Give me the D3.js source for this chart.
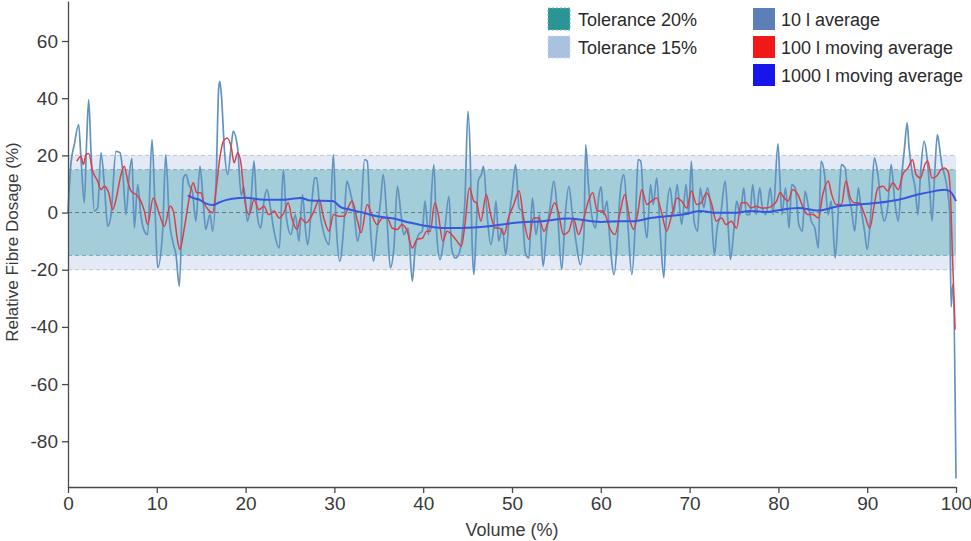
<!DOCTYPE html>
<html>
<head>
<meta charset="utf-8">
<script src="https://cdn.jsdelivr.net/npm/d3@7"></script>
<style>
  body { margin: 0; background: #ffffff; }
  text { font-family: "Liberation Sans", Arial, sans-serif; }
</style>
</head>
<body>
<svg id="chart" width="971" height="541"></svg>
<script>
// Axis ticks
const xTicks = [0, 10, 20, 30, 40, 50, 60, 70, 80, 90, 100];
const yTicks = [-80, -60, -40, -20, 0, 20, 40, 60];

// Tolerance bands (± relative dosage, %)
const toleranceOuter = 20;
const toleranceInner = 15;

// Legend entries
const legendTolerance = ["Tolerance 20%", "Tolerance 15%"];
const legendSeries = ["10 l average", "100 l moving average", "1000 l moving average"];

// 10 l average: [volume %, relative fibre dosage %]
const tenLitre = [
  [0,0],[0.3,16],[0.71,23.8],[1.2,30.8],[1.46,19],[1.84,3.4],[2.1,25],[2.33,39.5],[2.59,21.4],[2.97,0.5],
  [3.34,1.6],[3.72,20.9],[4.09,9.8],[4.47,-4.8],[4.85,-0.7],[5.4,21.4],[5.86,20.9],[6.16,14.5],[6.53,-0.7],[6.9,13.3],
  [7.2,19],[7.47,-5.4],[7.85,9.8],[8.2,-0.7],[8.6,-6.5],[8.97,-7.7],[9.46,25.5],[9.8,1.6],[10.1,-19.3],[10.66,-6.5],
  [11.0,20.3],[11.4,-1.9],[11.86,-11],[12.16,-14.7],[12.54,-25.8],[12.99,12.1],[13.3,13.3],[13.6,9.8],[14.0,7.5],[14.4,-3],
  [14.86,16.2],[15.2,5.1],[15.5,-5.9],[15.99,-0.7],[16.3,-6.5],[16.7,13.3],[16.97,43.6],[17.1,45.9],[17.3,40],[17.6,22.6],
  [17.98,13.3],[18.4,23.8],[18.6,28.4],[19.1,22.6],[19.5,6],[19.8,9],[20.2,-3],[20.6,4],[20.95,18],[21.3,-0.7],
  [21.7,-5.4],[22.07,4],[22.4,8],[22.8,1.6],[23.2,-6.5],[23.8,-12.4],[24.25,15],[24.6,-1.9],[25.1,-7.7],[25.6,-0.7],
  [26.0,-10],[26.4,6.3],[26.8,-7.7],[27.0,-11.2],[27.5,5.1],[27.78,12.1],[28.0,12.1],[28.4,-0.7],[28.8,-7.1],[29.4,-11.2],
  [29.88,20.3],[30.2,-4.2],[30.6,-17],[31.1,-3],[31.4,11],[31.76,7.5],[32.2,0.5],[32.6,-10],[32.9,-5.4],[33.4,18.5],
  [33.7,18],[34.08,-6.5],[34.4,-17],[34.8,-6.5],[35.2,4],[35.5,13.3],[35.89,-0.7],[36.3,-19.3],[36.7,-12.4],[37.09,9.2],
  [37.5,-0.7],[37.8,-7.7],[38.3,-5.4],[38.77,-24],[39.1,-12.4],[39.5,-7.7],[39.9,-6.5],[40.2,4],[40.6,-7.7],[41.2,16.8],
  [41.5,-6.5],[41.9,-16.4],[42.3,-10],[42.9,5.7],[43.2,-12.4],[43.6,-15.9],[44.0,-14.7],[44.4,-7.7],[44.7,4],[45.04,35.4],
  [45.3,19.1],[45.5,-10],[45.7,-21.7],[45.95,-7.7],[46.2,11],[46.55,13.3],[46.8,16.2],[47.2,-0.7],[47.6,-11.2],[47.9,-6.5],
  [48.2,4],[48.5,-10],[48.9,-5.4],[49.3,-14.7],[49.7,-0.7],[50.0,6.3],[50.4,16.8],[50.8,1.6],[51.1,0.5],[51.5,-14.1],
  [51.9,-15.9],[52.3,5.1],[52.7,-7.7],[53.1,-0.7],[53.5,-18.8],[53.9,-6.5],[54.3,2.2],[54.7,11],[55.1,1],[55.6,-19.9],
  [56.0,-0.7],[56.4,9.2],[56.8,-0.7],[57.2,-10],[57.7,-18.2],[58.1,-7.7],[58.3,23.8],[58.6,9.8],[59.1,-3],[59.4,-5.4],
  [59.8,6.3],[60.05,9],[60.3,-0.7],[60.7,4],[61.0,-8.9],[61.5,-21.7],[61.9,-7.7],[62.2,7.5],[62.6,13.3],[63.0,-1.9],
  [63.5,-21.7],[63.9,-3],[64.2,18.5],[64.5,18],[64.9,-1.9],[65.2,-8.9],[65.6,9.8],[65.9,2.8],[66.3,12.1],[66.7,-7.7],
  [67.1,-22.8],[67.4,-0.7],[67.8,8.6],[68.2,-0.7],[68.6,9.8],[69.1,-4.2],[69.6,9.8],[69.9,-0.7],[70.2,18],[70.5,-3],
  [70.9,-6.5],[71.2,8.6],[71.6,1.6],[72.0,8.6],[72.4,1.6],[72.8,-14.7],[73.1,-5.4],[73.5,-0.7],[74.0,11],[74.4,-7.7],
  [74.6,-16.4],[75.0,-5.4],[75.3,4],[75.7,-0.7],[76.1,8.6],[76.4,-0.7],[76.8,-0.7],[77.1,9.8],[77.5,-0.7],[77.9,8.6],
  [78.2,1.6],[78.6,-0.7],[79.1,8.6],[79.4,-0.7],[79.95,24],[80.15,13],[80.4,-0.7],[80.8,8.6],[81.2,-5.4],[81.5,9.8],
  [81.9,8.6],[82.3,-4.2],[82.7,-6.5],[83.0,7.5],[83.4,1.6],[83.7,-3],[84.1,-5.4],[84.5,-12.4],[84.8,18],[85.2,13.3],
  [85.6,-0.7],[85.95,4],[86.4,-15.9],[86.8,4],[87.1,16.8],[87.5,15.6],[87.8,7.5],[88.2,1.6],[88.6,-6.5],[89.0,8.6],
  [89.3,1.6],[89.7,-6.5],[90.0,-12.9],[90.4,-0.7],[90.8,19.1],[91.2,13.3],[91.6,1.6],[91.9,-3],[92.3,1.6],[92.7,16.8],
  [93.1,4],[93.5,-3],[93.9,13.3],[94.2,22.6],[94.5,31.4],[94.7,23.2],[95.1,13.3],[95.4,8.6],[95.7,-0.7],[96.0,13.3],
  [96.4,24.9],[96.7,20.3],[97.0,9.8],[97.3,-3],[97.6,13.3],[97.9,27.3],[98.2,21.4],[98.4,16.8],[98.7,13.3],[99.0,8.6],
  [99.3,-0.7],[99.45,-33],[99.65,-25],[100,-93]
];

// 100 l moving average
const hundredLitre = [
  [1.0,18],[1.46,19.7],[1.73,16.8],[2.03,20.3],[2.33,20.7],[2.78,14.5],[3.34,11],[3.72,8],[4.09,9.2],[4.58,6.9],
  [5.03,1],[5.4,4.5],[5.97,13.3],[6.34,16.2],[6.72,11],[7.1,7.5],[7.66,6.3],[8.2,4],[8.6,0.5],[8.97,-4.2],
  [9.6,5.1],[10.3,-0.7],[10.85,-4.8],[11.5,2.2],[11.86,0.5],[12.35,-10],[12.6,-12.9],[13.1,-5.4],[13.66,5.1],[14.1,10.4],
  [14.5,6.9],[14.95,6.9],[15.3,3.4],[15.8,1],[16.3,-0.1],[16.7,8.6],[17.1,19.1],[17.5,25],[17.9,26.1],[18.4,22.6],
  [18.7,17.4],[19.1,20.9],[19.5,16.8],[19.8,7],[20.4,-0.7],[20.95,4.5],[21.5,1],[22.07,2.2],[22.6,-0.7],[23.2,0.5],
  [23.8,-1.9],[24.3,-0.1],[24.8,3.4],[25.2,-1.9],[25.8,-5.9],[26.2,-1.9],[26.8,-3.6],[27.3,-1.9],[27.7,0.5],[28.3,4.5],
  [28.8,-1.9],[29.4,-6.5],[29.9,-0.7],[30.5,-1.3],[31.1,-1.3],[31.6,2.2],[32.0,4],[32.6,-3],[33.0,-7.1],[33.7,2.8],
  [34.2,-0.7],[34.8,-4.2],[35.4,-1.9],[35.96,-1.9],[36.5,-5.4],[37.09,-5.9],[37.6,-4.2],[38.2,-6.5],[38.77,-12.4],[39.3,-9.4],
  [39.9,-9],[40.4,-6.5],[40.8,-6.5],[41.3,3.4],[41.7,-0.7],[42.2,-10],[42.7,-6.5],[43.2,-7.7],[43.8,-10],[44.3,-11.8],
  [44.7,-4.2],[45.2,8.6],[45.7,4],[46.0,3.4],[46.5,-3],[47.1,6.3],[47.6,-0.7],[48.1,-5.4],[48.6,-5.4],[49.1,-7.7],
  [49.6,-1.9],[50.2,2.8],[50.8,7.5],[51.3,-1.9],[51.9,-9.4],[52.4,-1.9],[53.0,-1.9],[53.6,-6.5],[54.1,-3],[54.8,3.4],
  [55.2,0.5],[55.8,-7.7],[56.4,-6.5],[56.9,-1.9],[57.5,-7.7],[58.1,-1.9],[58.6,4],[59.1,6.9],[59.6,0.5],[60.1,0.5],
  [60.5,-0.7],[61.0,-5.4],[61.6,-7.7],[62.2,0.5],[62.7,6.3],[63.3,-3],[63.7,-5.9],[64.2,0.5],[64.6,8],[65.2,2.8],
  [65.7,4],[66.3,5.1],[66.9,-0.7],[67.4,-6.5],[68.0,-0.7],[68.6,5.1],[69.1,4],[69.7,1.6],[70.2,7.5],[70.8,2.8],
  [71.3,3.4],[71.9,6.9],[72.5,2.8],[73.0,-3],[73.6,-1.9],[74.1,-4.2],[74.7,-3],[75.3,-5.4],[75.8,3.4],[76.4,3.4],
  [76.9,1.6],[77.5,2.2],[78.1,1.6],[78.6,1.6],[79.2,2.2],[79.8,4],[80.2,7],[80.5,5.7],[81.1,4],[81.6,8],
  [82.2,6.3],[82.8,1.6],[83.3,-0.7],[83.9,-0.7],[84.5,-1.9],[85.0,6.3],[85.6,11],[86.0,6.3],[86.5,2.8],[87.1,2.8],
  [87.6,11],[88.1,5.1],[88.6,3.4],[89.1,3.4],[89.7,-0.7],[90.3,-5.4],[90.8,2.8],[91.2,8.6],[91.8,9.2],[92.3,7.5],
  [92.9,10.4],[93.5,8],[94.0,13.3],[94.6,15.6],[95.1,18.5],[95.5,13.3],[96.0,12.1],[96.5,16.8],[96.8,18],[97.3,12.1],
  [97.8,12.7],[98.3,15],[98.7,15.6],[99.1,14.5],[99.35,8],[99.6,-15],[99.9,-41]
];

// 1000 l moving average
const thousandLitre = [
  [13.5,6],[14.0,5.2],[14.8,4.5],[15.5,3.2],[16.3,2.6],[17.0,3.5],[17.4,4],[18.5,4.8],[20.0,5.2],[22.1,4.5],
  [24.3,4.5],[26.2,5.1],[27.3,4.2],[29.8,4],[30.7,1.9],[31.8,1],[33.3,-0.1],[34.8,-1.3],[36.7,-2.1],[38.6,-3.6],
  [40.0,-4.5],[42.1,-5.4],[44.4,-5.4],[47.4,-4.8],[50.4,-3.6],[53.4,-3],[56.4,-2.1],[60.0,-3.3],[62.2,-3],[63.7,-3],
  [65.6,-1.9],[67.4,-1.3],[69.3,-0.7],[71.2,0.5],[73.1,-0.1],[75.0,-0.1],[76.8,0.5],[78.7,0.2],[80.0,0.8],[82.2,1.6],
  [84.5,0.7],[86.7,2.2],[89.0,2.8],[91.2,3.4],[93.5,4.5],[95.7,6.3],[97.6,7.5],[98.7,8],[99.3,7.5],[100.0,4]
];

const svg = d3.select("#chart");
const x = d3.scaleLinear().domain([0, 100]).range([68, 956]);
const y = d3.scaleLinear().domain([-96, 74]).range([487, 1]);

// Tolerance bands
const bands = svg.append("g");
bands.append("rect")
  .attr("x", x(0)).attr("width", x(100) - x(0))
  .attr("y", y(toleranceOuter)).attr("height", y(-toleranceOuter) - y(toleranceOuter))
  .attr("fill", "#e4eaf5");
bands.append("rect")
  .attr("x", x(0)).attr("width", x(100) - x(0))
  .attr("y", y(toleranceInner)).attr("height", y(-toleranceInner) - y(toleranceInner))
  .attr("fill", "#a3cdd8");

const refLines = [
  { v: toleranceOuter, c: "#b9c4d6" }, { v: -toleranceOuter, c: "#b9c4d6" },
  { v: toleranceInner, c: "#7fa9b8" }, { v: -toleranceInner, c: "#7fa9b8" },
  { v: 0, c: "#5f7b88" }
];
bands.selectAll("line.ref").data(refLines).join("line")
  .attr("class", "ref")
  .attr("x1", x(0)).attr("x2", x(100))
  .attr("y1", d => y(d.v)).attr("y2", d => y(d.v))
  .attr("stroke", d => d.c).attr("stroke-width", 1)
  .attr("stroke-dasharray", "4,3");

// Series lines
const line = d3.line().x(d => x(d[0])).y(d => y(d[1])).curve(d3.curveMonotoneX);
svg.append("path").datum(tenLitre).attr("d", line)
  .attr("fill", "none").attr("stroke", "#6093c0").attr("stroke-width", 1.7).attr("stroke-linejoin", "round");
svg.append("path").datum(hundredLitre).attr("d", line)
  .attr("fill", "none").attr("stroke", "#d9404a").attr("stroke-width", 1.5).attr("stroke-linejoin", "round");
svg.append("path").datum(thousandLitre).attr("d", line)
  .attr("fill", "none").attr("stroke", "#3558df").attr("stroke-width", 2).attr("stroke-linejoin", "round");

// Axes (plain hyphen for negative labels)
const axisColor = "#4a4a4a";
const plain = d => String(d);
const gx = svg.append("g").attr("transform", `translate(0,${y(-96)})`)
  .call(d3.axisBottom(x).tickValues(xTicks).tickFormat(plain).tickSize(6).tickSizeOuter(0).tickPadding(4));
const gy = svg.append("g").attr("transform", `translate(${x(0)},0)`)
  .call(d3.axisLeft(y).tickValues(yTicks).tickFormat(plain).tickSize(6).tickSizeOuter(0).tickPadding(4));
[gx, gy].forEach(g => {
  g.select(".domain").attr("stroke", axisColor).attr("stroke-width", 1.3);
  g.selectAll(".tick line").attr("stroke", axisColor).attr("stroke-width", 1.3);
  g.selectAll(".tick text").attr("fill", "#3a3a3a").style("font-size", "19px")
    .style("font-family", '"Liberation Sans", Arial, sans-serif');
});

// Axis titles
svg.append("text").attr("x", 512).attr("y", 536).attr("text-anchor", "middle")
  .attr("fill", "#3a3a3a").style("font-size", "18px").text("Volume (%)");
svg.append("text").attr("transform", "translate(18,242) rotate(-90)").attr("text-anchor", "middle")
  .attr("fill", "#3a3a3a").style("font-size", "17px").text("Relative Fibre Dosage (%)");

// Legend
const legend = svg.append("g");
const tolFill = ["#2b9595", "#a9c2df"];
const tolStroke = ["#6fb8b8", "#cfdcee"];
legendTolerance.forEach((label, i) => {
  const ly = 8 + i * 28;
  legend.append("rect").attr("x", 548).attr("y", ly).attr("width", 22).attr("height", 22)
    .attr("fill", tolFill[i]).attr("stroke", tolStroke[i]).attr("stroke-dasharray", "2,2");
  legend.append("text").attr("x", 578).attr("y", ly + 18).attr("fill", "#2a2a2a")
    .style("font-size", "18px").text(label);
});
const seriesColors = ["#5b7fb6", "#f01818", "#1616ec"];
legendSeries.forEach((label, i) => {
  const ly = 8 + i * 28;
  legend.append("rect").attr("x", 753).attr("y", ly).attr("width", 22).attr("height", 22)
    .attr("fill", seriesColors[i]);
  legend.append("text").attr("x", 781).attr("y", ly + 18).attr("fill", "#2a2a2a")
    .style("font-size", "18px").text(label);
});
</script>
</body>
</html>
